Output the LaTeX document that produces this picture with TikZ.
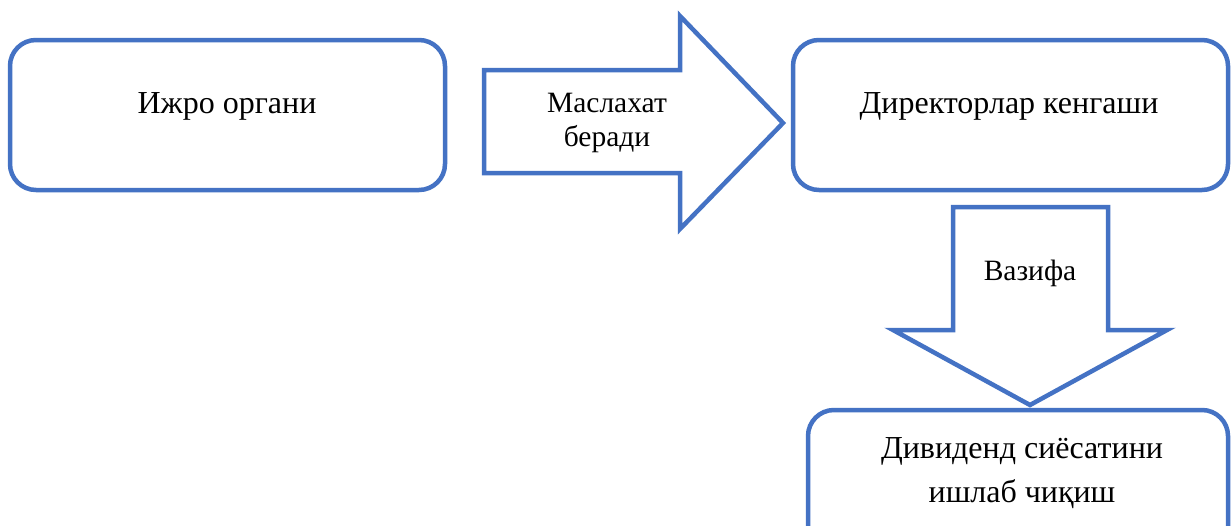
\documentclass[tikz,border=0pt]{standalone}
\usepackage{fontspec}
\setmainfont{Liberation Serif}
\definecolor{boxblue}{HTML}{4472C4}
\tikzset{
  box/.style={draw=boxblue, line width=4.5pt, rounded corners=26pt, fill=white},
  blockarrow/.style={draw=boxblue, line width=4.5pt, line join=miter, fill=white},
  lbl/.style={font=\fontsize{32}{38}\selectfont, align=center, inner sep=0pt}
}
\begin{document}
\begin{tikzpicture}[x=1pt,y=-1pt]
\clip (0,0) rectangle (1231,525);
\fill[white] (0,0) rectangle (1231,525);
% boxes
\draw[box] (10,40) rectangle (445,190);
\node[lbl] (ijro) at (227,106) {Ижро органи};
\draw[box] (793,40) rectangle (1228,190);
\node[lbl] (dir) at (1009,106) {Директорлар кенгаши};
\draw[box] (808,410) rectangle (1228,560);
\node[lbl, font=\fontsize{32}{44}\selectfont] (div) at (1022,473) {Дивиденд сиёсатини\\ишлаб чиқиш};
% right block arrow
\draw[blockarrow] (484,70) -- (680,70) -- (680,16) -- (783,123) -- (680,229) -- (680,173) -- (484,173) -- cycle;
\node[lbl, font=\fontsize{29.5}{34}\selectfont] (advice) at (607,123) {Маслахат\\беради};
% down block arrow
\draw[blockarrow] (953,207) -- (1108,207) -- (1108,330) -- (1167,330) -- (1030,405) -- (893,330) -- (953,330) -- cycle;
\node[lbl, font=\fontsize{29.5}{34}\selectfont] (task) at (1030,273) {Вазифа};
\end{tikzpicture}
\end{document}
